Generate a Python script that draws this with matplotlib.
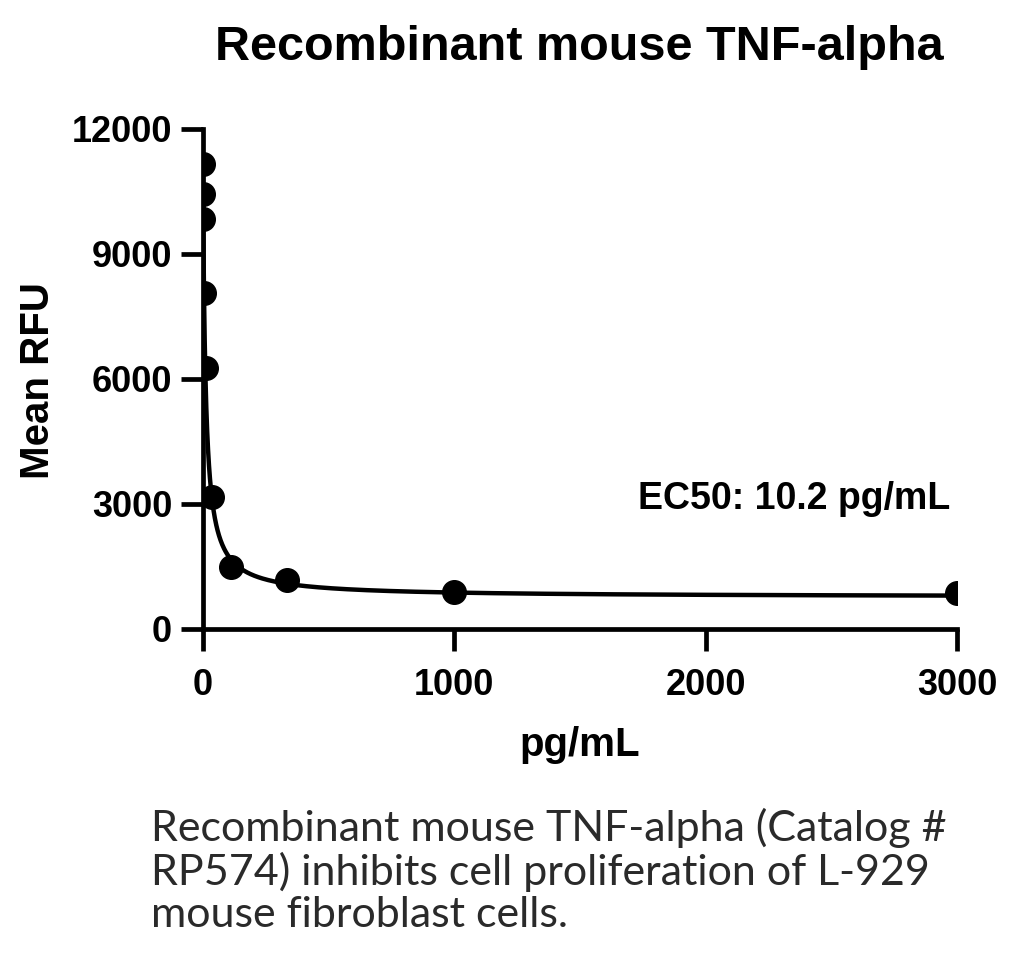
import numpy as np
import matplotlib
matplotlib.use("Agg")
import matplotlib.pyplot as plt

# dose (pg/mL) and mean RFU
dose = [0.15, 0.46, 1.37, 4.1, 12.3, 37, 111, 333, 1000, 3000]
rfu = [11140, 10420, 9840, 8060, 6260, 3170, 1490, 1176, 890, 850]

# 4PL fit parameters (EC50 as printed on the chart)
bottom, top, ec50, hill = 760, 11600, 10.2, 1.0

xticks = [0, 1000, 2000, 3000]
yticks = [0, 3000, 6000, 9000, 12000]

plt.rcParams['font.family'] = ['Liberation Sans', 'DejaVu Sans']

fig = plt.figure(figsize=(10.24, 9.6), dpi=100)
ax = fig.add_axes([0.198, 0.345, 0.737, 0.521])

xfit = np.logspace(np.log10(0.05), np.log10(3000), 600)
yfit = bottom + (top - bottom) / (1 + (xfit / ec50) ** hill)
ax.plot(xfit, yfit, color='black', lw=3.2, clip_on=True)
ax.plot(dose, rfu, 'o', color='black', ms=17, clip_on=True)

ax.set_xlim(0, 3000)
ax.set_ylim(0, 12000)
ax.set_xticks(xticks)
ax.set_yticks(yticks)
for s in ['top', 'right']:
    ax.spines[s].set_visible(False)
for s in ['left', 'bottom']:
    ax.spines[s].set_linewidth(3.4)
ax.tick_params(width=3.4, length=16, labelsize=26)
ax.tick_params(axis='x', pad=12)
ax.tick_params(axis='y', pad=6)
for lab in ax.get_xticklabels() + ax.get_yticklabels():
    lab.set_fontweight('bold')

fig.text(0.566, 0.224, 'pg/mL', fontsize=29, fontweight='bold', ha='center', va='center')
fig.text(0.037, 0.604, 'Mean RFU', fontsize=29, fontweight='bold', ha='center',
         va='center', rotation=90)
fig.text(0.566, 0.951, 'Recombinant mouse TNF-alpha', fontsize=35, fontweight='bold',
         ha='center', va='center')

ax.text(0.99, 0.26, 'EC50: 10.2 pg/mL', transform=ax.transAxes, ha='right',
        va='center', fontsize=27, fontweight='bold')

fig.text(0.147, 0.093, 'Recombinant mouse TNF-alpha (Catalog #\nRP574) inhibits cell proliferation of L-929\nmouse fibroblast cells.',
         fontsize=31, family=['Lato', 'DejaVu Sans'], color='#2a2a2a',
         va='center', ha='left', linespacing=1.13)

fig.savefig('out.png', dpi=100)
